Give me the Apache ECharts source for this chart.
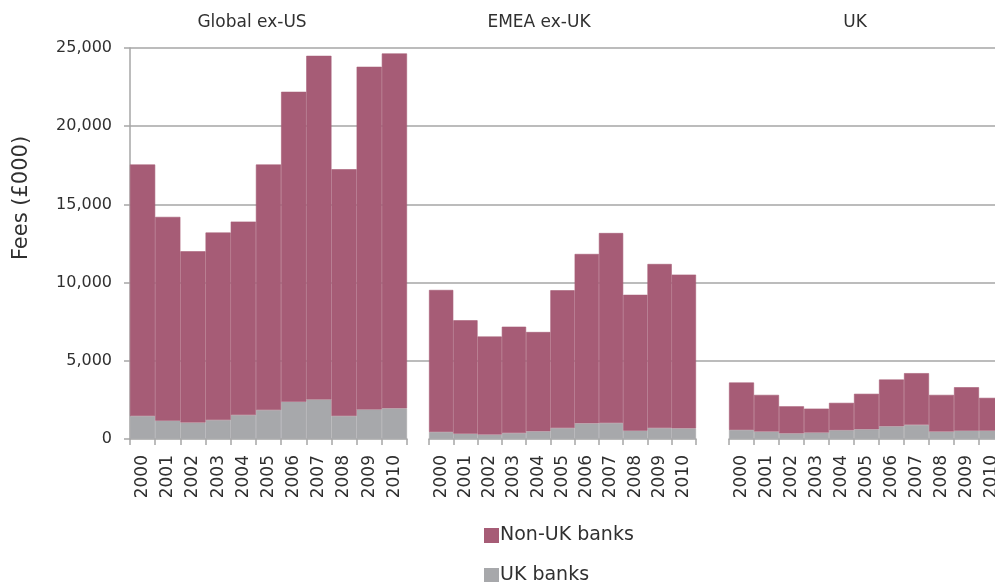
<!DOCTYPE html>
<html>
<head>
<meta charset="utf-8">
<script src="https://cdn.jsdelivr.net/npm/echarts@6/dist/echarts.min.js"></script>
<style>
  html, body { margin: 0; padding: 0; background: #fff; }
  #chart { width: 995px; height: 582px; }
</style>
</head>
<body>
<div id="chart"></div>
<script>
// Fee data (£000) by year, split by bank nationality, for three regions
const years = ['2000','2001','2002','2003','2004','2005','2006','2007','2008','2009','2010'];
const regions = ['Global ex-US', 'EMEA ex-UK', 'UK'];

const globalUkBanks    = [1470, 1170, 1050, 1210, 1530, 1850, 2380, 2530, 1470, 1890, 1960];
const globalNonUkBanks = [16080, 13030, 10950, 11990, 12370, 15700, 19820, 21970, 15780, 21910, 22690];

const emeaUkBanks      = [450, 340, 280, 380, 490, 700, 1000, 1020, 530, 700, 680];
const emeaNonUkBanks   = [9080, 7250, 6270, 6800, 6350, 8810, 10830, 12150, 8690, 10490, 9830];

const ukUkBanks        = [580, 470, 360, 410, 560, 620, 810, 900, 470, 530, 530];
const ukNonUkBanks     = [3030, 2350, 1730, 1530, 1750, 2270, 2990, 3310, 2350, 2780, 2100];

const yTicks = [0, 5000, 10000, 15000, 20000, 25000];

const NON_UK = 'Non-UK banks';
const UK = 'UK banks';
const colNonUk = '#a65c76';
const colUk = '#a7a8ab';
const lineGray = '#a6a6a6';
const textCol = '#303030';
const font = 'DejaVu Sans';

const chart = echarts.init(document.getElementById('chart'), null, { renderer: 'canvas' });

const plotTop = 48, plotHeight = 391;
// panel placement: the last panel runs past the right edge
const panels = [{ left: 130, width: 277 }, { left: 429, width: 267 }, { left: 729, width: 275 }];

const grids = [{ left: 130, top: plotTop, width: 865, height: plotHeight, outerBoundsMode: 'none' }];
panels.forEach(p => grids.push(Object.assign({ top: plotTop, height: plotHeight, outerBoundsMode: 'none' }, p)));

const fmt = v => v.toString().replace(/\B(?=(\d{3})+(?!\d))/g, ',');

const xAxes = [{ gridIndex: 0, type: 'category', data: [''], show: false }];
const yAxes = [{
  gridIndex: 0, type: 'value', min: yTicks[0], max: yTicks[yTicks.length - 1],
  interval: yTicks[1] - yTicks[0],
  axisLine: { show: true, lineStyle: { color: lineGray, width: 1.5 } },
  axisTick: { show: true, inside: false, length: 6, lineStyle: { color: lineGray, width: 1.5 } },
  axisLabel: { color: textCol, fontFamily: font, fontSize: 16, margin: 18, formatter: fmt },
  splitLine: { show: true, showMinLine: false, lineStyle: { color: lineGray, width: 1.5 } }
}];

panels.forEach((p, i) => {
  xAxes.push({
    gridIndex: i + 1, type: 'category', data: years, boundaryGap: true,
    axisLine: { show: true, lineStyle: { color: lineGray, width: 1.5 } },
    axisTick: { show: true, length: 6, lineStyle: { color: lineGray, width: 1.5 } },
    axisLabel: { rotate: 90, color: textCol, fontFamily: font, fontSize: 17, margin: 16,
                 interval: 0, hideOverlap: false }
  });
  yAxes.push({
    gridIndex: i + 1, type: 'value', min: yTicks[0], max: yTicks[yTicks.length - 1],
    show: false, splitLine: { show: false }
  });
});

const seriesData = [
  [globalUkBanks, globalNonUkBanks],
  [emeaUkBanks, emeaNonUkBanks],
  [ukUkBanks, ukNonUkBanks]
];

const series = [];
seriesData.forEach((pair, i) => {
  series.push({
    name: UK, type: 'bar', stack: 'r' + i, xAxisIndex: i + 1, yAxisIndex: i + 1,
    data: pair[0], barWidth: '100%', barCategoryGap: 0,
    itemStyle: { color: colUk, borderColor: colUk, borderWidth: 0.6 }, silent: true
  });
  series.push({
    name: NON_UK, type: 'bar', stack: 'r' + i, xAxisIndex: i + 1, yAxisIndex: i + 1,
    data: pair[1], barWidth: '100%', barCategoryGap: 0,
    itemStyle: { color: colNonUk, borderColor: colNonUk, borderWidth: 0.6 }, silent: true
  });
});

const titleCenters = [252, 539, 855];
const graphics = regions.map((r, i) => ({
  type: 'text', x: titleCenters[i], y: 23,
  style: { text: r, textAlign: 'center', textVerticalAlign: 'middle',
           fill: textCol, font: '17px "' + font + '"' }
}));
graphics.push({
  type: 'text', x: 22, y: 198, rotation: Math.PI / 2,
  style: { text: 'Fees (£000)', textAlign: 'center', textVerticalAlign: 'middle',
           fill: textCol, font: '21px "' + font + '"' }
});

const legendBase = {
  left: 479, orient: 'vertical', icon: 'rect', itemWidth: 13, itemHeight: 13, itemGap: 8,
  selectedMode: false,
  textStyle: { color: textCol, fontFamily: font, fontSize: 19, padding: [0, 0, 0, -3] }
};

chart.setOption({
  animation: false,
  backgroundColor: '#fff',
  grid: grids,
  xAxis: xAxes,
  yAxis: yAxes,
  series: series,
  graphic: graphics,
  legend: [
    Object.assign({}, legendBase, { top: 521, data: [NON_UK] }),
    Object.assign({}, legendBase, { top: 561, data: [UK] })
  ]
});
</script>
</body>
</html>
